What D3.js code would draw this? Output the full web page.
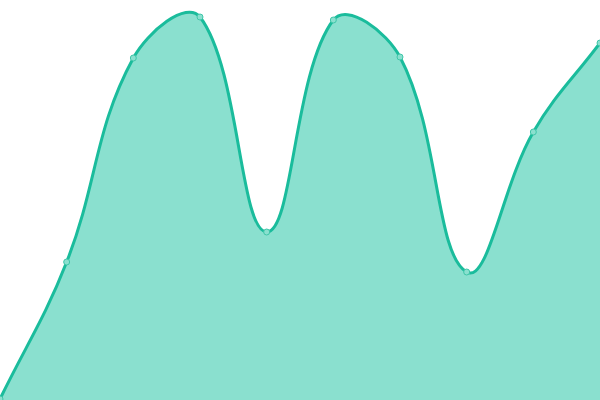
<!DOCTYPE html>
<html>
<head>
<meta charset="utf-8">
<script src="https://cdn.jsdelivr.net/npm/d3@7"></script>
<style>
  html, body { margin: 0; padding: 0; background: #fff; }
  svg { display: block; }
</style>
</head>
<body>
<div id="chart"></div>
<script>
// data
var labels = [0, 1, 2, 3, 4, 5, 6, 7, 8, 9];
var values = [1, 138, 342, 383, 168, 380, 343, 128, 268, 357];

var width = 600, height = 400;

var x = d3.scaleLinear()
    .domain([0, labels.length - 1])
    .range([0, width]);

var y = d3.scaleLinear()
    .domain([0, 400])
    .range([height, 0]);

// distance weighted spline (tension 0.4), control points kept inside the plot
function SplineCurve(context) { this._context = context; }
SplineCurve.prototype = {
  areaStart: function () { this._line = 0; },
  areaEnd: function () { this._line = NaN; },
  lineStart: function () { this._pts = []; },
  point: function (px, py) { this._pts.push([+px, +py]); },
  lineEnd: function () {
    var p = this._pts, c = this._context, n = p.length, t = 0.4;
    if (!n) return;
    var clampX = function (v) { return Math.max(0, Math.min(width, v)); },
        clampY = function (v) { return Math.max(0, Math.min(height, v)); };
    var cps = p.map(function (cur, i) {
      var prev = p[i - 1] || cur, next = p[i + 1] || cur;
      var d01 = Math.hypot(cur[0] - prev[0], cur[1] - prev[1]),
          d12 = Math.hypot(next[0] - cur[0], next[1] - cur[1]);
      var s01 = d01 / (d01 + d12), s12 = d12 / (d01 + d12);
      if (isNaN(s01)) s01 = 0;
      if (isNaN(s12)) s12 = 0;
      var fa = t * s01, fb = t * s12;
      return {
        prev: [clampX(cur[0] - fa * (next[0] - prev[0])), clampY(cur[1] - fa * (next[1] - prev[1]))],
        next: [clampX(cur[0] + fb * (next[0] - prev[0])), clampY(cur[1] + fb * (next[1] - prev[1]))]
      };
    });
    if (this._line) c.lineTo(p[0][0], p[0][1]);
    else c.moveTo(p[0][0], p[0][1]);
    for (var i = 1; i < n; i++) {
      c.bezierCurveTo(cps[i - 1].next[0], cps[i - 1].next[1],
                      cps[i].prev[0], cps[i].prev[1],
                      p[i][0], p[i][1]);
    }
    if (this._line) c.closePath();
    this._line = 1 - this._line;
  }
};
var curveSpline = function (context) { return new SplineCurve(context); };

var svg = d3.select('#chart').append('svg')
    .attr('width', width)
    .attr('height', height);

var pts = labels.map(function (d, i) { return { i: d, v: values[i] }; });

var area = d3.area()
    .x(function (d) { return x(d.i); })
    .y0(height)
    .y1(function (d) { return y(d.v); })
    .curve(curveSpline);

var line = d3.line()
    .x(function (d) { return x(d.i); })
    .y(function (d) { return y(d.v); })
    .curve(curveSpline);

svg.append('path')
    .datum(pts)
    .attr('d', area)
    .style('fill', '#8ae0cf');

svg.append('path')
    .datum(pts)
    .attr('d', line)
    .style('fill', 'none')
    .style('stroke', '#1abc9c')
    .style('stroke-width', 3);

svg.selectAll('.dot')
    .data(pts)
    .enter()
    .append('circle')
        .attr('class', 'dot')
        .attr('cx', function (d) { return x(d.i); })
        .attr('cy', function (d) { return y(d.v); })
        .attr('r', 3)
        .style('fill', '#8ae0cf')
        .style('stroke', '#3fc6a8')
        .style('stroke-width', 1);
</script>
</body>
</html>
